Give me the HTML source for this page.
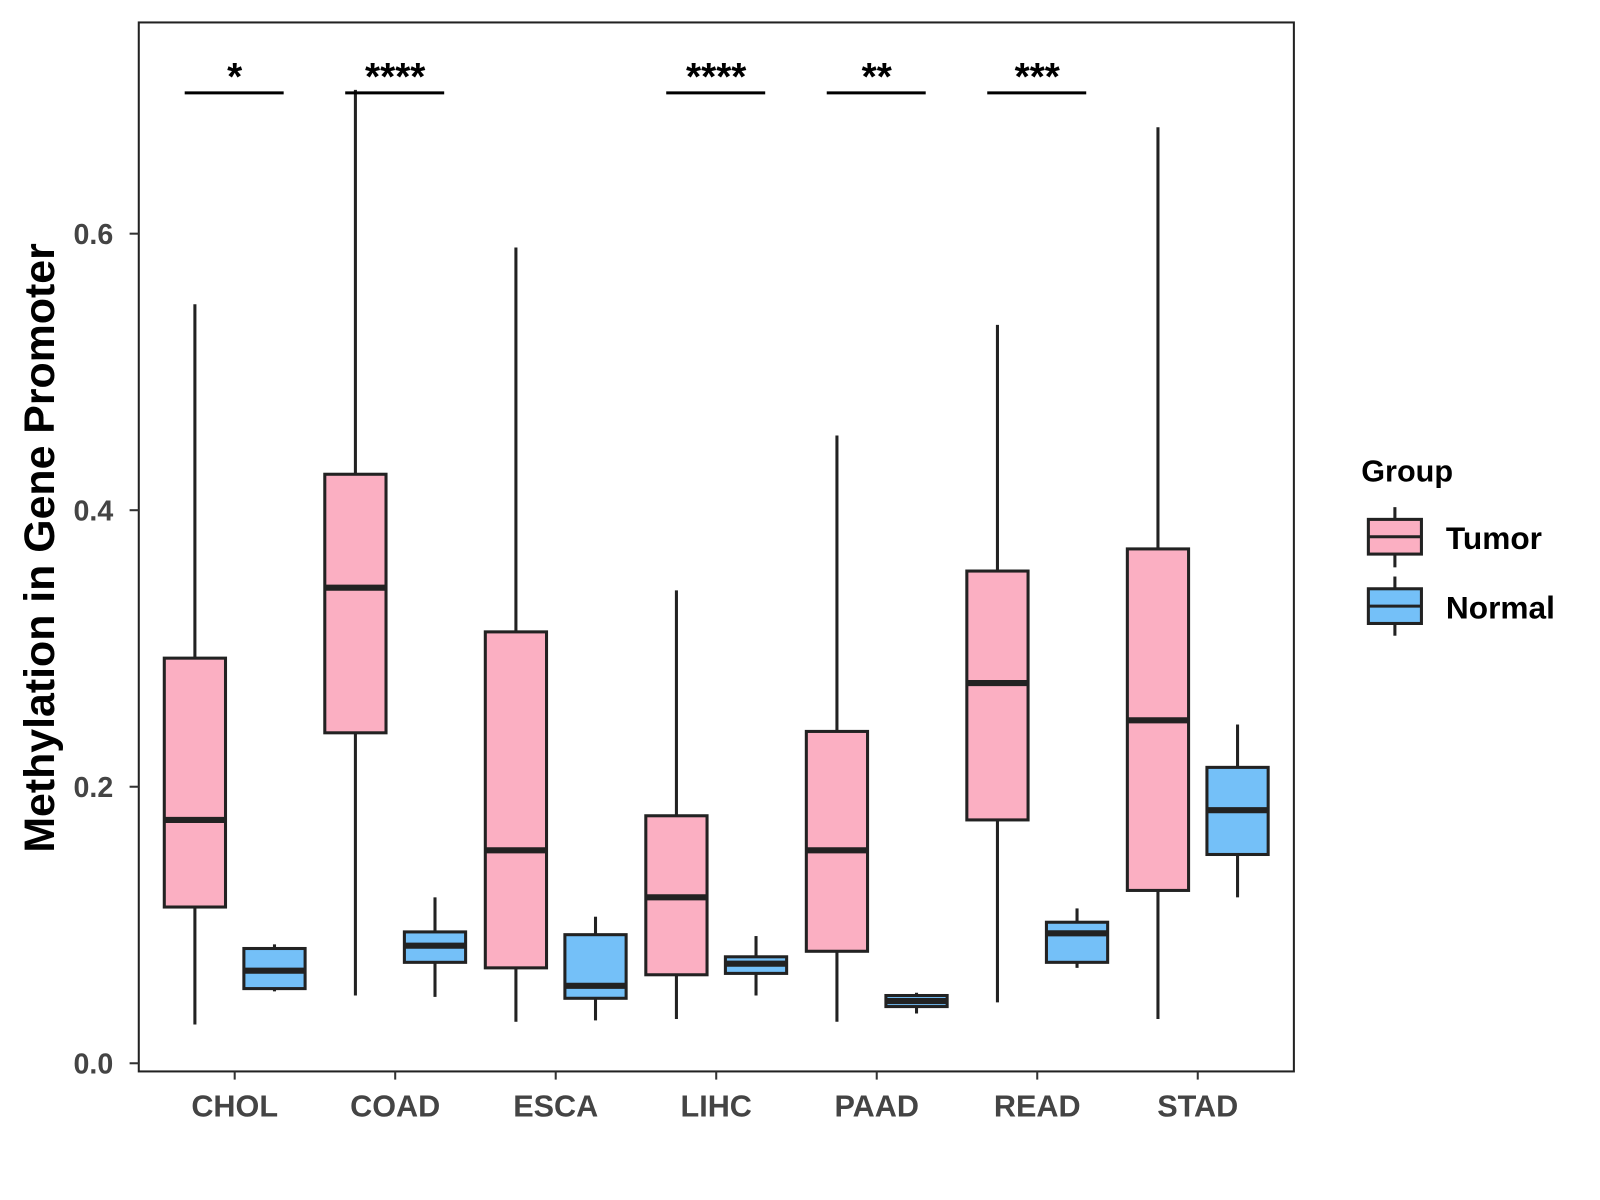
<!DOCTYPE html>
<html><head><meta charset="utf-8"><style>
html,body{margin:0;padding:0;background:#fff;}
svg{display:block;font-family:"Liberation Sans",Arial,sans-serif;}
</style></head><body>
<svg id="chart" width="1600" height="1200" viewBox="0 0 1568 1176">
<rect x="0" y="0" width="1568" height="1176" fill="#fff"/>
<g id="marks"></g>
<rect x="136" y="22" width="1132" height="1028" fill="none" stroke="#222" stroke-width="2"/>
<g id="axes"></g>
<text x="0" y="0" transform="translate(53,537) rotate(-90)" text-anchor="middle" font-size="42" font-weight="bold" fill="#000">Methylation in Gene Promoter</text>
<g>
<text x="1334" y="472" font-size="30" font-weight="bold" fill="#000">Group</text>
<g>
<line x1="1367" y1="497" x2="1367" y2="556" stroke="#222" stroke-width="3"/>
<rect x="1341" y="509" width="52" height="34" fill="#FBAFC2" stroke="#222" stroke-width="3"/>
<line x1="1341" y1="526" x2="1393" y2="526" stroke="#222" stroke-width="3"/>
<text x="1417" y="538" font-size="31" font-weight="bold" fill="#000">Tumor</text>
</g>
<g>
<line x1="1367" y1="565" x2="1367" y2="623" stroke="#222" stroke-width="3"/>
<rect x="1341" y="577" width="52" height="34" fill="#74C0F8" stroke="#222" stroke-width="3"/>
<line x1="1341" y1="594" x2="1393" y2="594" stroke="#222" stroke-width="3"/>
<text x="1417" y="606" font-size="31" font-weight="bold" fill="#000">Normal</text>
</g>
</g>
</svg>
<script>
const categories = ["CHOL","COAD","ESCA","LIHC","PAAD","READ","STAD"];
const tumorLow    = [0.028,0.049,0.030,0.032,0.030,0.044,0.032];
const tumorQ1     = [0.113,0.239,0.069,0.064,0.081,0.176,0.125];
const tumorMedian = [0.176,0.344,0.154,0.120,0.154,0.275,0.248];
const tumorQ3     = [0.293,0.426,0.312,0.179,0.240,0.356,0.372];
const tumorHigh   = [0.549,0.704,0.590,0.342,0.454,0.534,0.677];
const normalLow    = [0.052,0.048,0.031,0.049,0.036,0.069,0.120];
const normalQ1     = [0.054,0.073,0.047,0.065,0.041,0.073,0.151];
const normalMedian = [0.067,0.085,0.056,0.072,0.045,0.094,0.183];
const normalQ3     = [0.083,0.095,0.093,0.077,0.049,0.102,0.214];
const normalHigh   = [0.086,0.120,0.106,0.092,0.051,0.112,0.245];
const signif = ["*","****","","****","**","***",""];
const yTicks = [0.0,0.2,0.4,0.6];
const yTickLabels = ["0.0","0.2","0.4","0.6"];

const NS="http://www.w3.org/2000/svg";
function y(v){return 1042 - v*1355;}
function xc(i){return 230 + i*157.3;}
function mk(tag,attrs,parent){const e=document.createElementNS(NS,tag);for(const k in attrs)e.setAttribute(k,attrs[k]);parent.appendChild(e);return e;}
const marks=document.getElementById('marks');
const axes=document.getElementById('axes');
function box(cx,lo,q1,md,q3,hi,fill,name){
  const g=mk('g',{},marks);
  
  
  mk('line',{x1:cx,x2:cx,y1:y(hi),y2:y(q3),stroke:'#222','stroke-width':3},g);
  mk('line',{x1:cx,x2:cx,y1:y(q1),y2:y(lo),stroke:'#222','stroke-width':3},g);
  mk('rect',{x:cx-30,y:y(q3),width:60,height:y(q1)-y(q3),fill:fill,stroke:'#222','stroke-width':3},g);
  mk('line',{x1:cx-30,x2:cx+30,y1:y(md),y2:y(md),stroke:'#222','stroke-width':Math.min(6,y(q1)-y(q3)+5)},g);
}
categories.forEach((c,i)=>{
  const cx=xc(i);
  box(cx-39,tumorLow[i],tumorQ1[i],tumorMedian[i],tumorQ3[i],tumorHigh[i],'#FBAFC2','box-tumor-'+c.toLowerCase());
  box(cx+39,normalLow[i],normalQ1[i],normalMedian[i],normalQ3[i],normalHigh[i],'#74C0F8','box-normal-'+c.toLowerCase());
  if(signif[i]){
    const g=mk('g',{},marks);
    
    
    mk('line',{x1:cx-49,x2:cx+48,y1:91,y2:91,stroke:'#000','stroke-width':3},g);
    const t=mk('text',{x:cx,y:88,'text-anchor':'middle','font-size':38,'font-weight':'bold',fill:'#000'},g);
    t.textContent=signif[i];
  }
  const tk=mk('line',{x1:cx,x2:cx,y1:1050,y2:1058,stroke:'#333','stroke-width':2},axes);
  
  
  const lb=mk('text',{x:cx,y:1094,'text-anchor':'middle','font-size':30,'font-weight':'bold',fill:'#444'},axes);
  
  
  lb.textContent=c;
});
yTicks.forEach((v,i)=>{
  const tk=mk('line',{x1:127,x2:136,y1:y(v),y2:y(v),stroke:'#333','stroke-width':2},axes);
  
  
  const lb=mk('text',{x:111,y:y(v)+10,'text-anchor':'end','font-size':28,'font-weight':'bold',fill:'#444'},axes);
  
  
  lb.textContent=yTickLabels[i];
});
</script>
</body></html>
